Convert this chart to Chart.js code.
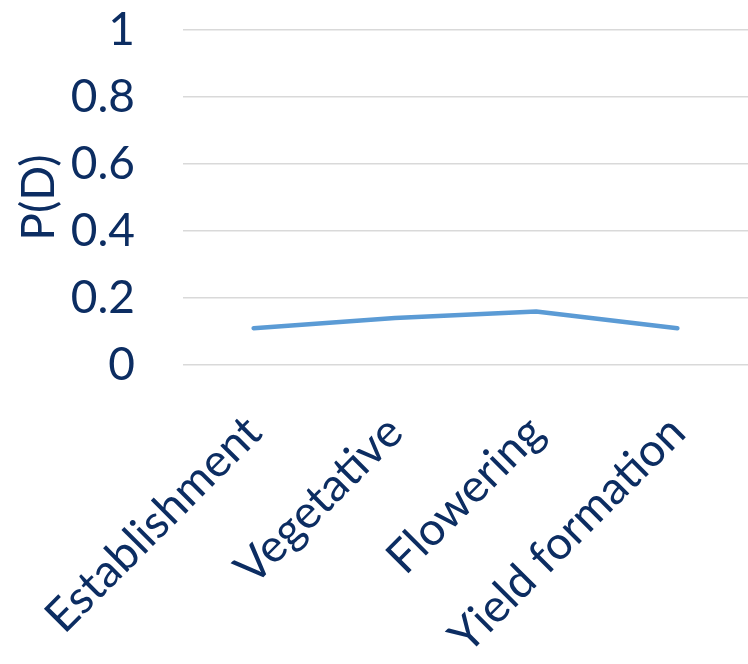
<!DOCTYPE html>
<html>
<head>
<meta charset="utf-8">
<script src="https://cdn.jsdelivr.net/npm/chart.js@4/dist/chart.umd.min.js"></script>
<style>
  html, body { margin: 0; padding: 0; background: #ffffff; }
  #wrap { width: 748px; height: 664px; position: relative; }
</style>
</head>
<body>
<div id="wrap"><canvas id="c"></canvas></div>
<script>
// Crop growth stages and the probability of damage at each stage
const stages = ['Establishment', 'Vegetative', 'Flowering', 'Yield formation'];
const probD = [0.11, 0.14, 0.16, 0.11];
const yTicks = [0, 0.2, 0.4, 0.6, 0.8, 1];
const yTitle = 'P(D)';

const NAVY = '#0C2D62';
const FONT = 'Lato, "Noto Sans", sans-serif';
const SIZE = 46;

new Chart(document.getElementById('c'), {
  type: 'line',
  data: {
    labels: stages,
    datasets: [{
      data: probD,
      borderColor: '#5B9BD5',
      borderWidth: 4.5,
      borderCapStyle: 'round',
      borderJoinStyle: 'round',
      pointRadius: 0,
      tension: 0,
      fill: false
    }]
  },
  options: {
    responsive: true,
    maintainAspectRatio: false,
    animation: false,
    layout: { padding: { left: 0, right: 0, top: 30, bottom: 0 } },
    plugins: { legend: { display: false }, tooltip: { enabled: false } },
    scales: {
      x: {
        type: 'category',
        offset: true,
        afterFit: (s) => { s.height = 664 - 365; s.paddingLeft = 0; s.paddingRight = 0; },
        grid: { display: false, drawTicks: false },
        border: { display: false },
        ticks: {
          autoSkip: false,
          minRotation: 45,
          maxRotation: 45,
          padding: 40,
          labelOffset: 0,
          color: NAVY,
          font: { family: FONT, size: SIZE }
        }
      },
      y: {
        min: 0,
        max: 1,
        afterBuildTicks: (s) => { s.ticks = yTicks.map(v => ({ value: v })); },
        afterFit: (s) => { s.width = 183; s.paddingTop = 0; s.paddingBottom = 0; },
        grid: { color: '#D9D9D9', lineWidth: 1.5, drawTicks: false },
        border: { display: false },
        ticks: {
          padding: 48,
          color: NAVY,
          font: { family: FONT, size: SIZE },
          callback: (v) => String(Math.round(v * 10) / 10)
        },
        title: {
          display: true,
          text: yTitle,
          color: NAVY,
          padding: { top: 12, bottom: 0 },
          font: { family: FONT, size: SIZE }
        }
      }
    }
  }
});
</script>
</body>
</html>
